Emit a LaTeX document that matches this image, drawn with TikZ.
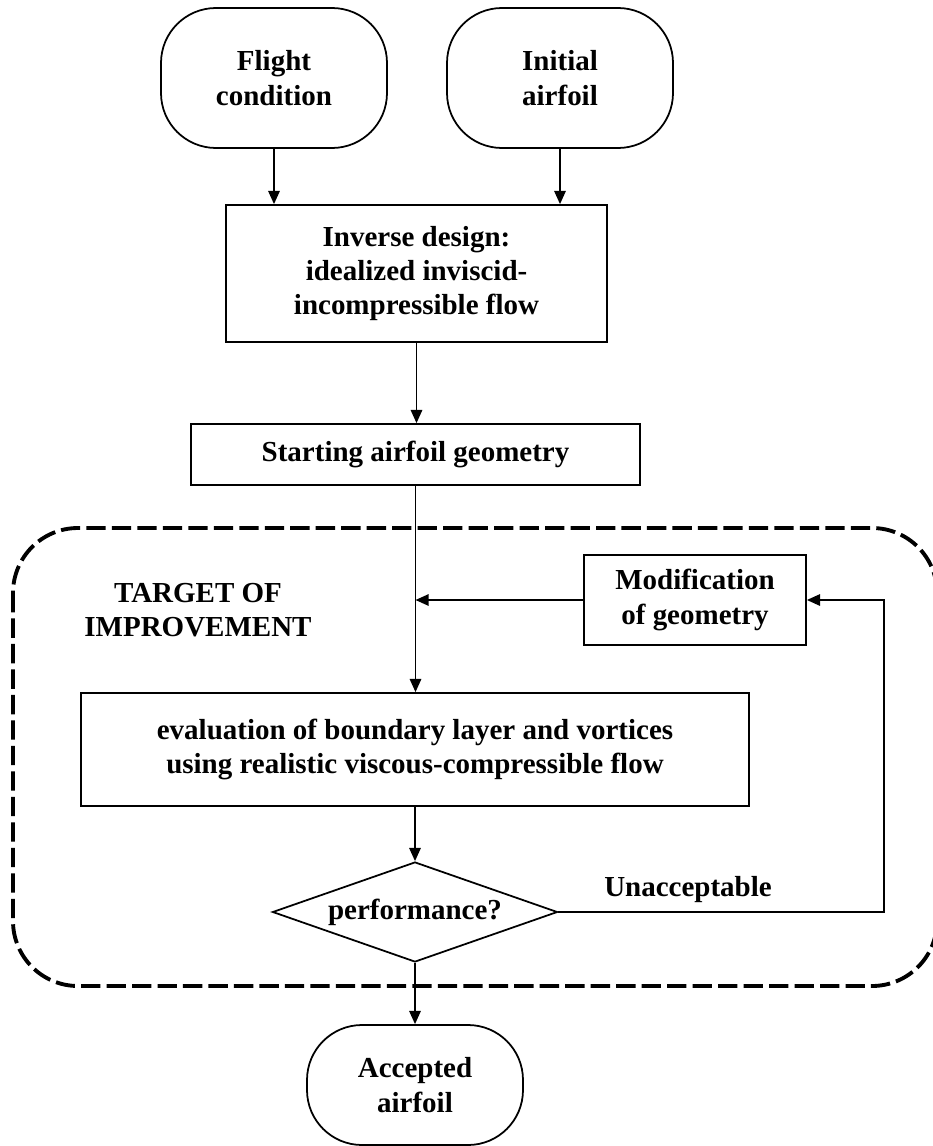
\documentclass[tikz,border=0pt]{standalone}
\usepackage{fontspec}
\setmainfont{Liberation Serif}
\usetikzlibrary{arrows.meta,positioning,shapes.geometric}

\begin{document}
\begin{tikzpicture}[
    every node/.style={font=\bfseries\fontsize{16.5}{19.5}\selectfont},
    terminal/.style={rectangle, draw, line width=1pt, rounded corners=1.1cm,
                     align=center, minimum width=4.52cm, minimum height=2.8cm},
    process/.style={rectangle, draw, line width=1pt, align=center, inner sep=0pt},
    decision/.style={diamond, draw, line width=1pt, inner sep=0pt,
                     shape aspect=2.85, minimum width=5.7cm, minimum height=2cm},
    flow/.style={-{Triangle[length=7.5pt, width=6.5pt]}, line width=1pt},
    region/.style={line width=2.2pt, dash pattern=on 11pt off 3.5pt,
                   rounded corners=1.3cm},
]
\useasboundingbox (0, 0) rectangle (18.64, -22.92);

% Inputs
\node[terminal] (flight) at (5.48, -1.56) {Flight\\condition};
\node[terminal] (initial) at (11.2, -1.56) {Initial\\airfoil};

% Design chain
\node[process, minimum width=7.62cm, minimum height=2.74cm] (inverse) at (8.33, -5.47)
    {Inverse design:\\idealized inviscid-\\incompressible flow};
\node[process, minimum width=8.98cm, minimum height=1.22cm] (start) at (8.31, -9.09)
    {Starting airfoil geometry};

% Improvement loop
\draw[region] (0.26, -10.56) rectangle (18.74, -19.72);
\node[align=center] (target) at (3.96, -12.2) {TARGET OF\\IMPROVEMENT};
\node[process, minimum width=4.44cm, minimum height=1.8cm] (modif) at (13.9, -12.0)
    {Modification\\of geometry};
\node[process, minimum width=13.36cm, minimum height=2.26cm] (eval) at (8.3, -14.99)
    {evaluation of boundary layer and vortices\\using realistic viscous-compressible flow};
\node[decision] (perf) at (8.3, -18.24) {performance?};
\node (unacc) at (13.76, -17.8) {Unacceptable};
\coordinate (turn) at (17.68, -18.24);

% Result
\node[terminal, minimum width=4.32cm, minimum height=2.4cm] (accepted) at (8.3, -21.7)
    {Accepted\\airfoil};

% Connectors
\draw[flow] (flight.south) -- (flight.south |- inverse.north);
\draw[flow] (initial.south) -- (initial.south |- inverse.north);
\draw[flow] (inverse.south) -- (inverse.south |- start.north);
\draw[flow] (start.south) -- (start.south |- eval.north);
\draw[flow] (modif.west) -- (start.south |- modif.west);
\draw[flow] (perf.east) -- (turn) |- (modif.east);
\draw[flow] (eval.south) -- (perf.north);
\draw[flow] (perf.south) -- (accepted.north);
\end{tikzpicture}
\end{document}
